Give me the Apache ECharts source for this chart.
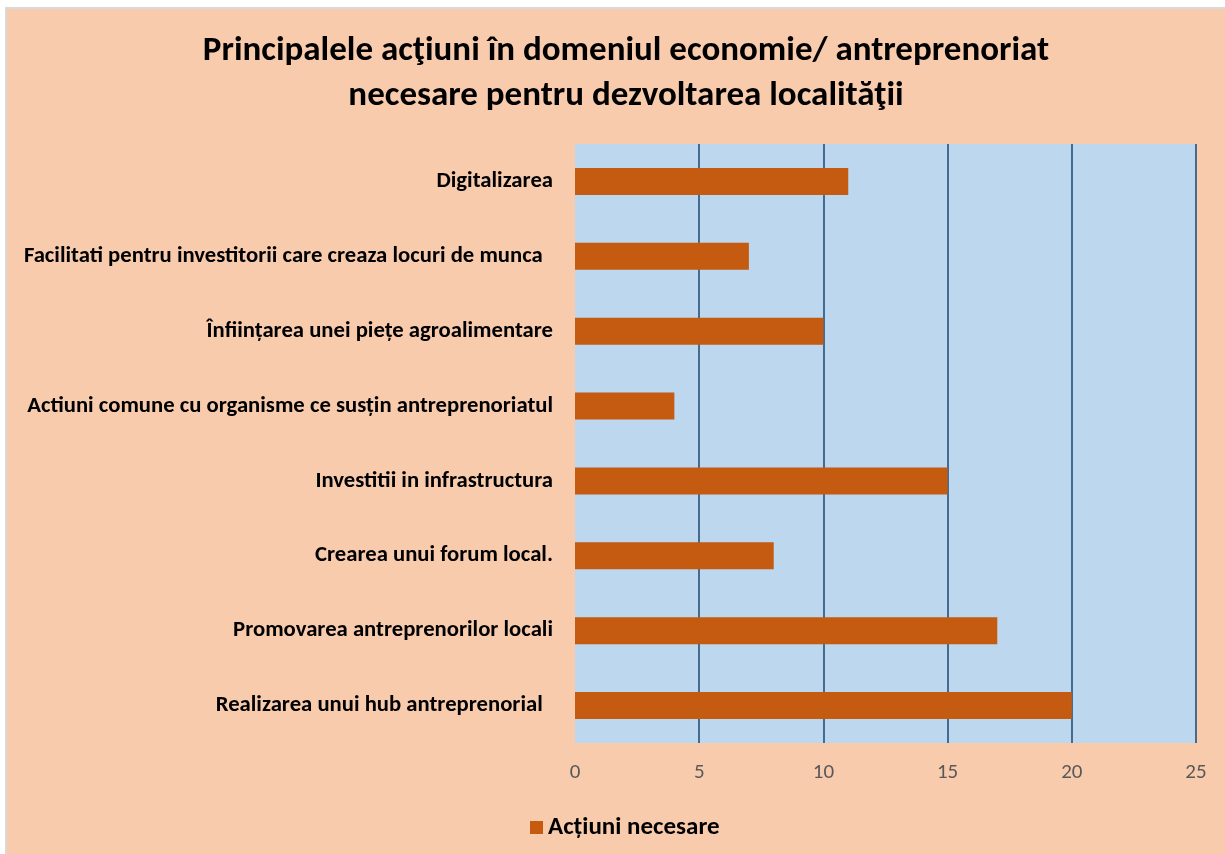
<!DOCTYPE html>
<html>
<head>
<meta charset="utf-8">
<script src="https://cdn.jsdelivr.net/npm/echarts@6/dist/echarts.min.js"></script>
<style>
  html, body { margin: 0; padding: 0; background: #ffffff; width: 1225px; height: 854px; overflow: hidden; }
  #frame { position: absolute; left: 5px; top: 7px; width: 1220px; height: 847px; border-left: 2px solid #D9D9D9; border-top: 2px solid #D9D9D9; }
  #chart { width: 1218px; height: 845px; background: #F8CBAD; }
</style>
</head>
<body>
<div id="frame"><div id="chart"></div></div>
<script>
const titleText = 'Principalele acţiuni în domeniul economie/ antreprenoriat\nnecesare pentru dezvoltarea localităţii';
const categories = [
  'Digitalizarea',
  'Facilitati pentru investitorii care creaza locuri de munca  ',
  'Înființarea unei piețe agroalimentare',
  'Actiuni comune cu organisme ce susțin antreprenoriatul',
  'Investitii in infrastructura',
  'Crearea unui forum local.',
  'Promovarea antreprenorilor locali',
  'Realizarea unui hub antreprenorial  '
];
const values = [11, 7, 10, 4, 15, 8, 17, 20];
const seriesName = 'Acțiuni necesare';
const xTicks = { min: 0, max: 25, interval: 5 };

const FONT = 'Carlito, Lato, "Liberation Sans", sans-serif';
const chart = echarts.init(document.getElementById('chart'), null, { renderer: 'canvas' });
chart.setOption({
  backgroundColor: '#F8CBAD',
  animation: false,
  title: {
    text: titleText,
    left: 614,
    textAlign: 'center',
    top: 15,
    textStyle: { fontFamily: FONT, fontSize: 35, fontWeight: 'bold', color: '#000000', lineHeight: 45 }
  },
  legend: {
    data: [seriesName],
    left: 518,
    top: 801,
    itemWidth: 13,
    itemHeight: 13,
    itemGap: 6,
    icon: 'rect',
    textStyle: { fontFamily: FONT, fontSize: 25, fontWeight: 'bold', color: '#000000' }
  },
  grid: { left: 568, top: 135, width: 621, height: 599, show: true, backgroundColor: '#BDD7EE', borderWidth: 0 },
  xAxis: {
    type: 'value',
    min: xTicks.min, max: xTicks.max, interval: xTicks.interval,
    axisLine: { show: false },
    axisTick: { show: false },
    axisLabel: { margin: 19, fontFamily: FONT, fontSize: 21, color: '#595959' },
    splitLine: { show: true, showMinLine: false, lineStyle: { color: '#25507A', width: 1.6 } }
  },
  yAxis: {
    type: 'category',
    data: categories,
    inverse: true,
    axisLine: { show: false },
    axisTick: { show: false },
    axisLabel: { margin: 22, fontFamily: FONT, fontSize: 22.7, fontWeight: 'bold', color: '#000000' }
  },
  series: [{
    name: seriesName,
    type: 'bar',
    data: values,
    barWidth: 27,
    itemStyle: { color: '#C55A11' }
  }]
});
</script>
</body>
</html>
